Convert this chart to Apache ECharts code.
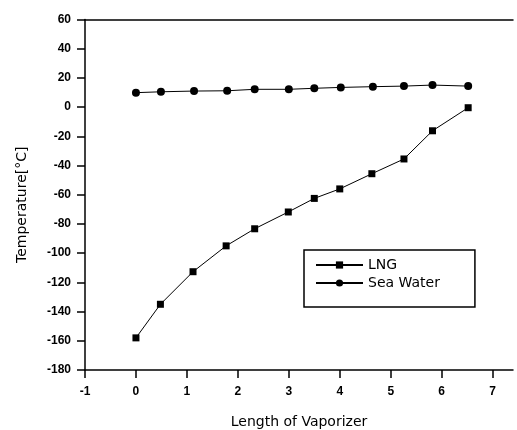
<!DOCTYPE html>
<html>
<head>
<meta charset="utf-8">
<script src="https://cdn.jsdelivr.net/npm/echarts@6/dist/echarts.min.js"></script>
<style>html,body{margin:0;padding:0;background:#fff}#c{width:517px;height:430px}</style>
</head>
<body>
<div id="c"></div>
<script>
const lngX = [0, 0.48, 1.12, 1.77, 2.33, 2.99, 3.5, 4.0, 4.63, 5.26, 5.82, 6.52];
const lngY = [-158, -135, -112.7, -95, -83.3, -71.8, -62.5, -56, -45.6, -35.5, -16.2, -0.4];
const seaX = [0, 0.49, 1.14, 1.79, 2.33, 3.0, 3.5, 4.02, 4.65, 5.26, 5.82, 6.52];
const seaY = [9.9, 10.5, 11, 11.2, 12.2, 12.2, 12.9, 13.5, 14, 14.4, 15.1, 14.4];
const xTicks = [-1, 0, 1, 2, 3, 4, 5, 6, 7];
const yTicks = [-180, -160, -140, -120, -100, -80, -60, -40, -20, 0, 20, 40, 60];

const pair = (xs, ys) => xs.map((x, i) => [x, ys[i]]);
const font = 'Liberation Sans';
const tfont = 'DejaVu Sans';
const chart = echarts.init(document.getElementById('c'));
chart.setOption({
  animation: false,
  backgroundColor: '#fff',
  grid: { left: 85, top: 19.5, right: 4, bottom: 60, outerBoundsMode: 'none', containLabel: false },
  legend: {
    orient: 'vertical', left: 304, top: 250,
    borderColor: '#000', borderWidth: 1.5, padding: [8, 35, 17, 11],
    itemWidth: 47, itemHeight: 9, itemGap: 4,
    textStyle: { fontFamily: tfont, fontSize: 14, color: '#000' },
    data: ['LNG', 'Sea Water']
  },
  xAxis: [{
    type: 'value', min: xTicks[0], max: 7.4, interval: 1,
    name: 'Length of Vaporizer', nameLocation: 'middle', nameGap: 45,
    nameTextStyle: { fontFamily: tfont, fontSize: 14, color: '#000' },
    axisLine: { onZero: false, lineStyle: { color: '#000', width: 1.5 } },
    axisTick: { length: 8, customValues: xTicks, lineStyle: { color: '#000', width: 1.5 } },
    axisLabel: { fontFamily: font, fontSize: 12, fontWeight: 'bold', color: '#000', margin: 16,
      customValues: xTicks },
    splitLine: { show: false }
  }, {
    type: 'value', position: 'top', min: xTicks[0], max: 7.4,
    axisLine: { show: true, onZero: false, lineStyle: { color: '#000', width: 1.5 } },
    axisTick: { show: false }, axisLabel: { show: false }, splitLine: { show: false }
  }],
  yAxis: {
    type: 'value', min: yTicks[0], max: yTicks[yTicks.length - 1], interval: 20,
    name: 'Temperature[°C]', nameLocation: 'middle', nameGap: 56,
    nameTextStyle: { fontFamily: tfont, fontSize: 14, color: '#000', padding: [0, 20, 0, 0] },
    axisLine: { show: true, onZero: false, lineStyle: { color: '#000', width: 1.5 } },
    axisTick: { length: 8, lineStyle: { color: '#000', width: 1.5 } },
    axisLabel: { fontFamily: font, fontSize: 12, fontWeight: 'bold', color: '#000', margin: 14 },
    splitLine: { show: false }
  },
  series: [{
    name: 'LNG', type: 'line', data: pair(lngX, lngY),
    symbol: 'rect', symbolSize: 7,
    lineStyle: { color: '#000', width: 1 }, itemStyle: { color: '#000' }
  }, {
    name: 'Sea Water', type: 'line', data: pair(seaX, seaY),
    symbol: 'circle', symbolSize: 8,
    lineStyle: { color: '#000', width: 1 }, itemStyle: { color: '#000' }
  }]
});
</script>
</body>
</html>
